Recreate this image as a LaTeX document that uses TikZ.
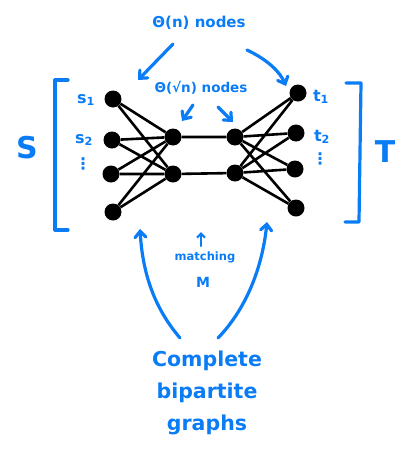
\documentclass[tikz,border=0pt]{standalone}
\usepackage{fontspec}
\setmainfont{DejaVu Sans}
\usetikzlibrary{arrows.meta}
\definecolor{inkblue}{HTML}{0A7CF5}

\begin{document}
\begin{tikzpicture}[x=1pt,y=-1pt,
 vtx/.style={circle,fill=black,inner sep=0pt,minimum size=17pt},
 edge/.style={line width=2.6pt,draw=black},
 note/.style={text=inkblue,inner sep=0pt,font=\bfseries\fontsize{16}{18}\selectfont},
 big/.style={note,font=\bfseries\fontsize{30}{34}\selectfont},
 ink/.style={draw=inkblue,line width=3.2pt,line cap=round,line join=round},
 point/.style={ink,-{Straight Barb[length=6pt,width=11pt,line cap=round]}}]
\useasboundingbox (0,0) rectangle (401,456);

% vertices: sources, two middle layers, sinks
\node[vtx] (s1) at (113,99) {};
\node[vtx] (s2) at (112,140) {};
\node[vtx] (s3) at (111,174) {};
\node[vtx] (s4) at (113,212) {};
\node[vtx] (a1) at (173,137) {};
\node[vtx] (a2) at (173,174) {};
\node[vtx] (b1) at (235,137) {};
\node[vtx] (b2) at (235,173) {};
\node[vtx] (t1) at (298,93) {};
\node[vtx] (t2) at (296,133) {};
\node[vtx] (t3) at (295,169) {};
\node[vtx] (t4) at (296,208) {};

% complete bipartite parts and the matching between them
\draw[edge] (s1)--(a1) (s1)--(a2) (s2)--(a1) (s2)--(a2)
 (s3)--(a1) (s3)--(a2) (s4)--(a1) (s4)--(a2);
\draw[edge] (a1)--(b1) (a2)--(b2);
\draw[edge] (b1)--(t1) (b1)--(t2) (b1)--(t3) (b1)--(t4)
 (b2)--(t1) (b2)--(t2) (b2)--(t3) (b2)--(t4);

% labels of the end vertices
\node[note] (ls1) at (86,100) {s\textsubscript{1}};
\node[note] (ls2) at (84,140) {s\textsubscript{2}};
\node[note] (lsd) at (83,164) {⋮};
\node[note] (lt1) at (321,97) {t\textsubscript{1}};
\node[note] (lt2) at (322,137) {t\textsubscript{2}};
\node[note] (ltd) at (320,159) {⋮};

% brackets for S and T
\draw[ink] (68,80)--(55,80)--(55,230)--(68,230);
\draw[ink] (346,83)--(361,83)--(359,222)--(345,222);
\node[big] (S) at (27,148) {S};
\node[big] (T) at (385,152) {T};

% top annotations
\node[note,font=\bfseries\fontsize{15}{18}\selectfont] (outer) at (199,23) {Θ(n) nodes};
\node[note,font=\bfseries\fontsize{13.5}{16}\selectfont] (inner) at (201,88) {Θ(√n) nodes};
\coordinate (o1) at (173,44);
\coordinate (o2) at (247,50);
\coordinate (i1) at (193,105);
\coordinate (i2) at (218,107);
\draw[point] (o1)--(138,80);
\draw[point] (o2) .. controls (268,60) and (280,72) .. (286,86);
\draw[point] (i1)--(182,121);
\draw[point] (i2)--(233,122);

% bottom annotations
\node[note,font=\bfseries\fontsize{11.5}{14}\selectfont] (match) at (205,257) {matching};
\node[note,font=\bfseries\fontsize{14}{16}\selectfont] (M) at (203,282) {M};
\draw[ink,line width=2pt,-{Straight Barb[length=4pt,width=8pt]}] (match.north)++(-4,-5)--++(0,-14);
\node[note,align=center,font=\bfseries\fontsize{20.5}{32}\selectfont] (cbg) at (207,393) {Complete\\bipartite\\graphs};
\coordinate (c1) at (180,338);
\coordinate (c2) at (218,338);
\draw[point] (c1) .. controls (158,312) and (143,280) .. (140,229);
\draw[point] (c2) .. controls (245,310) and (262,270) .. (267,222);
\end{tikzpicture}
\end{document}
